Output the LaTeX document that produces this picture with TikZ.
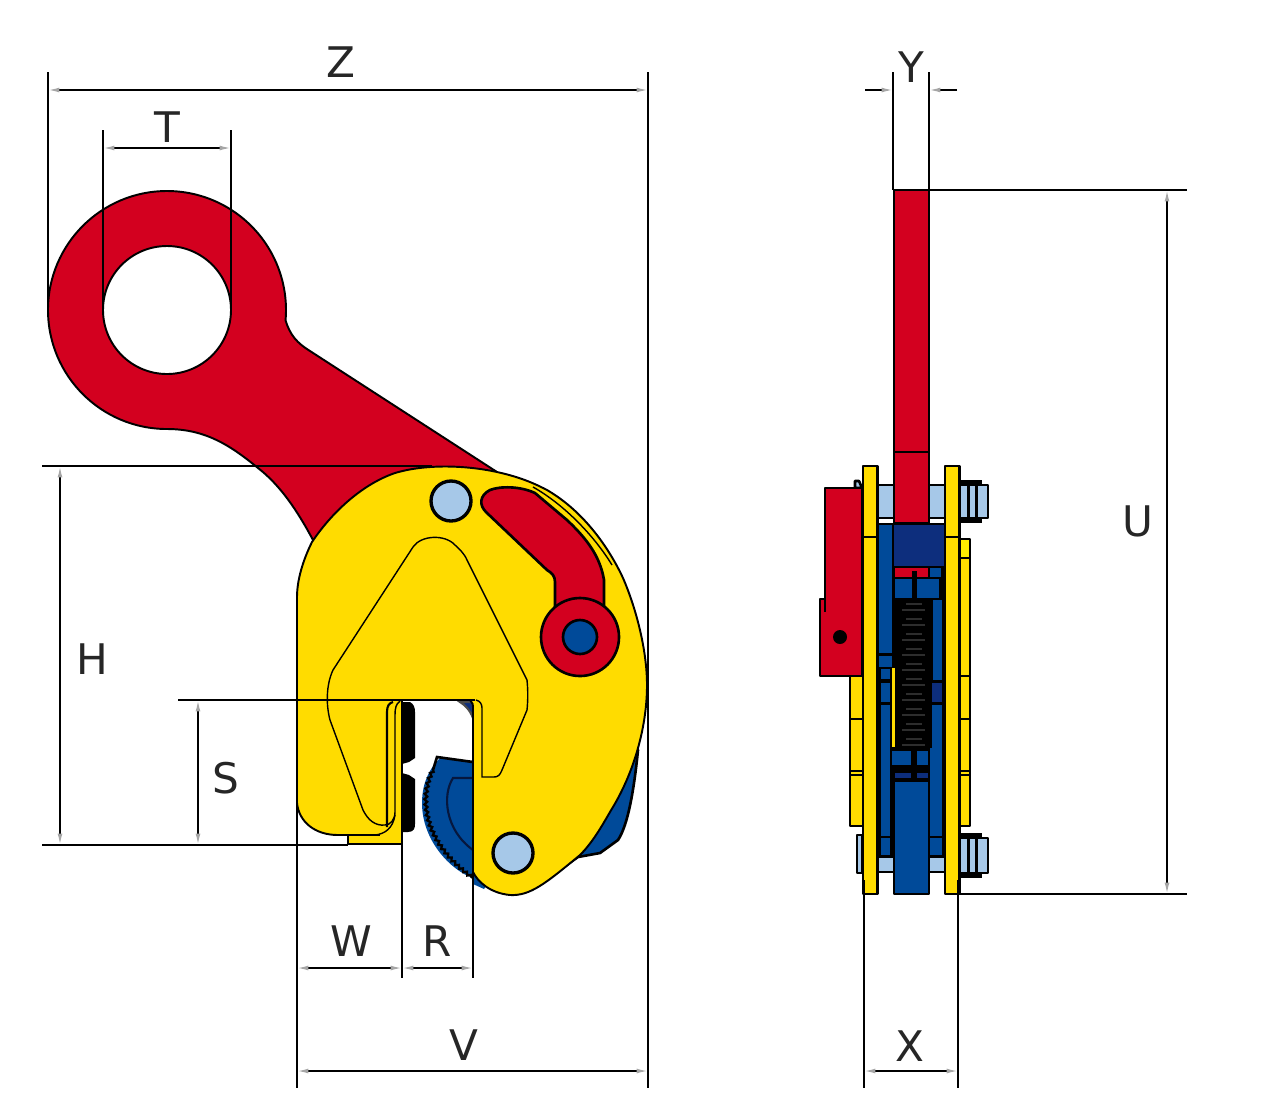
\documentclass[tikz,border=0pt]{standalone}
\usepackage{fontspec}
\setmainfont{DejaVu Sans}
\usetikzlibrary{arrows.meta,decorations.pathmorphing}
\definecolor{clampred}{HTML}{D3001F}
\definecolor{clampyellow}{HTML}{FFDC00}
\definecolor{clampbright}{HTML}{FFEE00}
\definecolor{clampblue}{HTML}{004A99}
\definecolor{clampnavy}{HTML}{0D2E7D}
\definecolor{clamppin}{HTML}{A6C8E8}
\tikzset{
	part/.style={draw=black,line width=1.5pt,line join=round},
	fine/.style={draw=black,line width=0.8pt},
	ext/.style={draw=black,line width=1.2pt},
	tip/.style={Latex[length=6.5pt,width=2.8pt,color=black!35]},
	dim/.style={draw=black,line width=0.9pt,-{Latex[length=6.5pt,width=2.8pt,color=black!35]}},
	dimboth/.style={draw=black,line width=0.9pt,{Latex[length=6.5pt,width=2.8pt,color=black!35]}-{Latex[length=6.5pt,width=2.8pt,color=black!35]}},
	lbl/.style={font=\fontsize{24}{24}\selectfont,text=black!85,inner sep=0pt},
}
\begin{document}
\begin{tikzpicture}[x=0.02cm,y=-0.02cm]
		\useasboundingbox (0,0) rectangle (1280,1117);
		% back plate and cam
		\draw[part,fill=clampblue] (638,750) .. controls (634,790) and (628,825) .. (618,840) -- (600,853) -- (578,857) -- (545,880) -- (500,880) -- (500,800) -- cycle;
		\fill[clampblue] (473,870) -- (473,884) -- (484,889) -- (490,880) -- cycle;
		\fill[clampblue] (440,758) -- (473,762) -- (473,878) .. controls (450,870) and (422,840) .. (422,803) .. controls (422,785) and (428,770) .. (440,758);
		\draw[black,line width=1.5pt] (473,762) -- (437,757) -- (433,770);
		\draw[black,line width=1.3pt,decorate,decoration={zigzag,amplitude=0.8pt,segment length=3pt}] (433,770) .. controls (420,795) and (420,840) .. (473,878);
		\draw[clampnavy!50!black,line width=1.2pt] (473,778) -- (453,778) .. controls (442,795) and (445,830) .. (473,850);
		\draw[black!70,line width=1.2pt,fill=clampnavy] (460,702) .. controls (465,705) and (470,710) .. (473,718) -- (473,702) -- cycle;
		% lifting eye
		\draw[part,fill=clampred,even odd rule,line width=1.1pt] (167,429) arc (90:365:119) .. controls (290,335) and (297,343) .. (310,351) -- (497,472) -- (400,520) -- (313,540) .. controls (297,510) and (280,485) .. (258,468) .. controls (230,445) and (205,429) .. (167,429) -- cycle (167,310) circle (64);
		% gripper pads
		\fill[black] (402,702) -- (410,702) .. controls (414,704) and (415,708) .. (415,712) -- (415,758) -- (409,762) -- (402,764) -- cycle;
		\fill[black] (402,773) -- (409,775) -- (415,779) -- (415,824) .. controls (415,828) and (414,832) .. (408,832) -- (402,832) -- cycle;
		% body
		\draw[part,fill=clampyellow,line width=1.1pt] (297,597) -- (297,803) .. controls (299,822) and (315,835) .. (338,835) -- (348,835) -- (348,844) -- (402,844) -- (402,700) -- (470,700) .. controls (473,702) and (473,705) .. (473,710) -- (473,872) .. controls (478,882) and (490,893) .. (510,895) .. controls (530,896) and (545,884) .. (580,855) .. controls (595,840) and (605,820) .. (613,807) .. controls (635,770) and (647,725) .. (647,685) .. controls (647,650) and (636,608) .. (623,578) .. controls (610,550) and (585,512) .. (547,490) .. controls (530,481) and (515,476) .. (497,472) .. controls (465,465) and (425,464) .. (395,473) .. controls (360,485) and (330,515) .. (312,542) .. controls (303,560) and (297,580) .. (297,597) -- cycle;
		% line along the edge
		\draw[fine] (533,487) .. controls (565,505) and (595,537) .. (612,565);
		% outline of the inner plate
		\draw[fine] (400,701) .. controls (396,704) and (395,708) .. (395,715) -- (395,812) .. controls (395,820) and (390,825) .. (385,825) .. controls (375,826) and (368,820) .. (363,810) -- (330,720) .. controls (326,705) and (326,685) .. (333,670) -- (413,547) .. controls (421,535) and (445,534) .. (455,545) .. controls (460,550) and (464,553) .. (467,560) -- (527,680) .. controls (528,690) and (528,700) .. (527,710) -- (502,770) .. controls (500,775) and (498,777) .. (494,777) -- (482,777) -- (482,708) .. controls (482,704) and (480,701) .. (476,700);
		\draw[ext] (387,827) -- (387,712) .. controls (387,706) and (389,703) .. (393,702);
		\draw[fine] (338,835) -- (375,835) .. controls (385,834) and (393,828) .. (395,815);
		\draw[ext] (348,835) -- (380,835);
		% lever
		\draw[part,fill=clampred] (555,610) -- (555,582) .. controls (555,576) and (552,573) .. (547,570) -- (487,513) .. controls (478,505) and (480,495) .. (490,490) .. controls (500,486) and (520,486) .. (535,493) -- (567,520) .. controls (585,537) and (600,555) .. (604,580) -- (604,610) -- cycle;
		\draw[part,fill=clampred] (580,637) circle (39);
		\draw[part,fill=clampblue] (580,637) circle (17);
		% pins
		\foreach \px/\py in {451/501,513/853}
			\draw[part,fill=clamppin,line width=1.9pt] (\px,\py) circle (20);
		% side view: bolts
		\foreach \by in {485,857}
			\draw[part,fill=clamppin] (878,\by) rectangle (945,{\by+(\by<500 ? 33 : 15)});
		\draw[part,fill=clamppin] (859,481) -- (855,481) -- (855,488) -- (862,488) -- cycle;
		\draw[part,fill=clamppin] (857,835) rectangle (862,873);
		\foreach \by/\bh in {485/33,838/35} {
			\draw[part,fill=clamppin,line width=1.4pt] (959,\by) rectangle (988,{\by+\bh});
			\fill[black] (960,{\by-5}) rectangle (982,\by);
			\fill[black] (960,{\by+\bh}) rectangle (982,{\by+\bh+5});
			\fill[black] (967,\by) rectangle (970,{\by+\bh});
			\fill[black] (975,\by) rectangle (978,{\by+\bh});
		}
		% side view: inner block
		\fill[black] (878,523) rectangle (945,857);
		\foreach \ax/\ay/\bx/\by in {879/525/892/653, 879/656/892/667, 881/669/890/679, 881/683/890/702, 881/705/890/836, 881/838/890/855, 892/751/911/765, 917/751/928/765, 933/600/942/680, 930/705/942/836, 930/838/942/855, 895/579/912/598, 917/579/939/598, 930/568/941/577}
			\fill[clampblue] (\ax,\ay) rectangle (\bx,\by);
		\foreach \ax/\ay/\bx/\by in {894/525/944/566, 930/683/942/702, 895/773/911/778, 917/773/928/778}
			\fill[clampnavy] (\ax,\ay) rectangle (\bx,\by);
		\fill[clampred] (895,568) rectangle (928,577);
		\fill[clampyellow] (892,668) rectangle (895,747);
		\draw[part,fill=clampblue] (894,781) rectangle (929,894);
		% spring
		\fill[black] (895,598) rectangle (932,748);
		\foreach \sy in {604,619,634,649,664,679,694,709,724,739}
			\draw[black!70!white,line width=0.9pt,opacity=0.6] (906,\sy) -- (922,\sy) (902,{\sy+6}) -- (925,{\sy+6});
		\fill[black] (912,571) rectangle (917,598);
		\fill[black] (911,748) rectangle (917,775);
		% side view: handle
		\draw[part,fill=clampred] (894,190) rectangle (929,523);
		\draw[part] (894,452) -- (929,452);
		\draw[part,fill=clampred] (825,488) -- (862,488) -- (862,676) -- (820,676) -- (820,599) -- (825,599) -- cycle;
		\draw[part] (825,599) -- (825,612);
		\fill[black] (840,637) circle (7);
		% side view: plates
		\foreach \ax/\bx/\ay/\by in {850/863/676/826, 959/970/539/826}
			\draw[part,fill=clampyellow] (\ax,\ay) rectangle (\bx,\by);
		\fill[clampbright] (960,540) rectangle (969,557);
		\foreach \ly in {719,771,775}
			\draw[part] (850,\ly) -- (863,\ly) (959,\ly) -- (970,\ly);
		\draw[part] (959,558) -- (970,558) (959,676) -- (970,676);
		\foreach \ax in {863,945} {
			\draw[part,fill=clampyellow] (\ax,466) rectangle ({\ax+14.5},894);
			\draw[part] (\ax,537) -- ({\ax+14.5},537);
		}
		% dimension points
		\coordinate (z1) at (48,90);
		\coordinate (z2) at (648,90);
		\coordinate (z1up) at (48,72);
		\coordinate (z1dn) at (48,310);
		\coordinate (z2up) at (648,72);
		\coordinate (z2dn) at (648,1088);
		\coordinate (t1) at (103,148);
		\coordinate (t2) at (231,148);
		\coordinate (t1up) at (103,130);
		\coordinate (t1dn) at (103,310);
		\coordinate (t2up) at (231,130);
		\coordinate (t2dn) at (231,310);
		\coordinate (h1) at (60,466);
		\coordinate (h2) at (60,845);
		\coordinate (h1l) at (42,466);
		\coordinate (h1r) at (432,466);
		\coordinate (h2l) at (42,845);
		\coordinate (h2r) at (348,845);
		\coordinate (s1) at (198,700);
		\coordinate (s2) at (198,845);
		\coordinate (s1l) at (178,700);
		\coordinate (s1r) at (475,700);
		\coordinate (v1) at (297,1071);
		\coordinate (v2) at (648,1071);
		\coordinate (v1up) at (297,597);
		\coordinate (v1dn) at (297,1088);
		\coordinate (w1) at (297,968);
		\coordinate (w2) at (402,968);
		\coordinate (w2up) at (402,702);
		\coordinate (w2dn) at (402,978);
		\coordinate (r2) at (473,968);
		\coordinate (r2up) at (473,762);
		\coordinate (r2dn) at (473,978);
		\coordinate (y1) at (865,90);
		\coordinate (y1e) at (893,90);
		\coordinate (y2) at (957,90);
		\coordinate (y2e) at (929,90);
		\coordinate (y1up) at (893,72);
		\coordinate (y1dn) at (893,190);
		\coordinate (y2up) at (929,72);
		\coordinate (y2dn) at (929,190);
		\coordinate (u1) at (1167,190);
		\coordinate (u2) at (1167,894);
		\coordinate (u1l) at (929,190);
		\coordinate (u1r) at (1187,190);
		\coordinate (u2l) at (959,894);
		\coordinate (u2r) at (1187,894);
		\coordinate (x1) at (864,1071);
		\coordinate (x2) at (958,1071);
		\coordinate (x1up) at (864,880);
		\coordinate (x1dn) at (864,1088);
		\coordinate (x2up) at (958,880);
		\coordinate (x2dn) at (958,1088);
		% extension lines
		\foreach \ea/\eb in {z1up/z1dn,z2up/z2dn,t1up/t1dn,t2up/t2dn,h1l/h1r,h2l/h2r,s1l/s1r,v1up/v1dn,w2up/w2dn,r2up/r2dn,y1up/y1dn,y2up/y2dn,u1l/u1r,u2l/u2r,x1up/x1dn,x2up/x2dn}
			\draw[ext] (\ea)--(\eb);
		% dimension lines
		\foreach \da/\db in {z1/z2,t1/t2,h1/h2,s1/s2,v1/v2,w1/w2,w2/r2,u1/u2,x1/x2}
			\draw[dimboth] (\da)--(\db);
		\draw[dim] (y1)--(y1e);
		\draw[dim] (y2)--(y2e);
		% labels
		\node[lbl] (zlabel) at (341,62) {Z};
		\node[lbl] (tlabel) at (167,127) {T};
		\node[lbl] (ylabel) at (911,67) {Y};
		\node[lbl] (ulabel) at (1138,521) {U};
		\node[lbl] (hlabel) at (92,659) {H};
		\node[lbl] (slabel) at (226,778) {S};
		\node[lbl] (wlabel) at (351,941) {W};
		\node[lbl] (rlabel) at (437,941) {R};
		\node[lbl] (vlabel) at (464,1045) {V};
		\node[lbl] (xlabel) at (910,1046) {X};
		\end{tikzpicture}
\end{document}
